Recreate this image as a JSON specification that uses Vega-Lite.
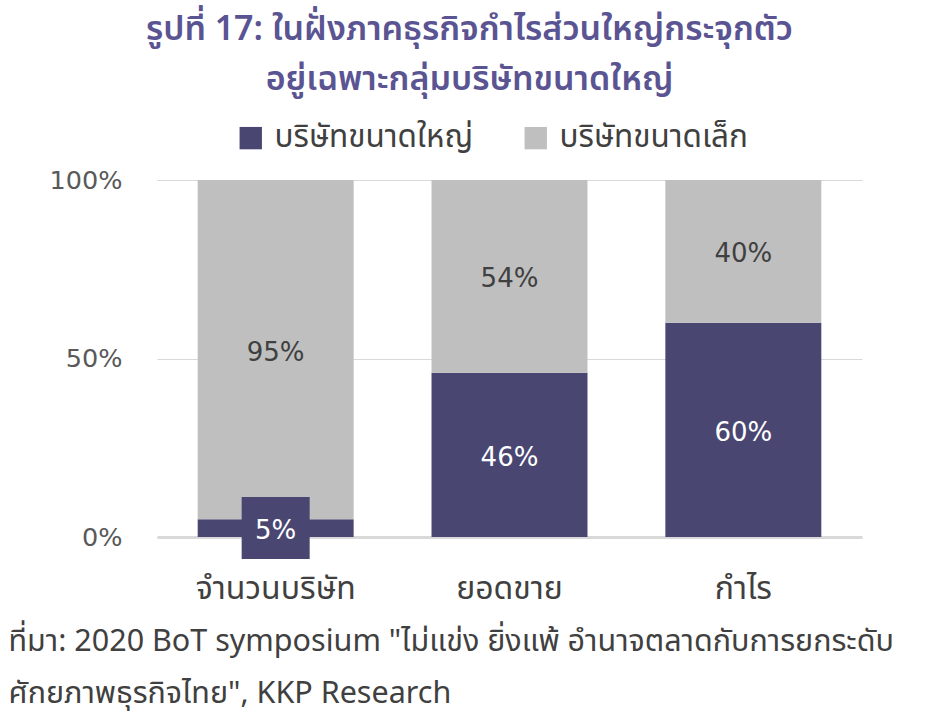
{
  "$schema": "https://vega.github.io/schema/vega-lite/v6.json",
  "width": 705,
  "height": 357,
  "autosize": {"type": "none"},
  "padding": {"left": 157, "top": 180, "right": 74, "bottom": 189},
  "background": "white",
  "title": {
    "text": ["รูปที่ 17: ในฝั่งภาคธุรกิจกำไรส่วนใหญ่กระจุกตัว", "อยู่เฉพาะกลุ่มบริษัทขนาดใหญ่"],
    "anchor": "middle",
    "frame": "group",
    "dx": -40,
    "offset": 25,
    "fontSize": 34,
    "fontWeight": 600,
    "color": "#5a5493",
    "lineHeight": 50,
    "font": "Noto Sans Thai, Noto Sans"
  },
  "config": {
    "view": {"stroke": null},
    "font": "Noto Sans Thai, Noto Sans"
  },
  "data": {
    "values": [
      {"category": "จำนวนบริษัท", "size": "บริษัทขนาดใหญ่", "ord": 1, "value": 0.05},
      {"category": "จำนวนบริษัท", "size": "บริษัทขนาดเล็ก", "ord": 2, "value": 0.95},
      {"category": "ยอดขาย", "size": "บริษัทขนาดใหญ่", "ord": 1, "value": 0.46},
      {"category": "ยอดขาย", "size": "บริษัทขนาดเล็ก", "ord": 2, "value": 0.54},
      {"category": "กำไร", "size": "บริษัทขนาดใหญ่", "ord": 1, "value": 0.60},
      {"category": "กำไร", "size": "บริษัทขนาดเล็ก", "ord": 2, "value": 0.40}
    ]
  },
  "encoding": {
    "x": {
      "field": "category",
      "type": "nominal",
      "sort": ["จำนวนบริษัท", "ยอดขาย", "กำไร"],
      "scale": {"paddingInner": 0.333, "paddingOuter": 0.174},
      "axis": {
        "labelAngle": 0,
        "labelFontSize": 32,
        "labelColor": "#404040",
        "labelPadding": 51,
        "labelBaseline": "middle",
        "ticks": false,
        "domain": true,
        "domainColor": "#d9d9d9",
        "domainWidth": 3,
        "grid": false,
        "title": ["ที่มา: 2020 BoT symposium \"ไม่แข่ง ยิ่งแพ้ อำนาจตลาดกับการยกระดับ", "ศักยภาพธุรกิจไทย\", KKP Research"],
        "titleFontSize": 30.5,
        "titleFontWeight": "normal",
        "titleColor": "#404040",
        "titleAnchor": "start",
        "titleAlign": "left",
        "titleBaseline": "middle",
        "titleX": -149,
        "titleY": 104,
        "titleLineHeight": 52,
        "titleLimit": 0
      }
    }
  },
  "layer": [
    {
      "mark": {"type": "bar"},
      "encoding": {
        "y": {
          "field": "value",
          "type": "quantitative",
          "stack": "zero",
          "scale": {"domain": [0, 1]},
          "axis": {
            "values": [0, 0.5, 1],
            "format": ".0%",
            "labelFont": "DejaVu Sans",
            "labelFontSize": 25.5,
            "labelColor": "#595959",
            "labelPadding": 35,
            "ticks": false,
            "domain": false,
            "gridColor": "#d9d9d9",
            "gridWidth": 1,
            "title": null
          }
        },
        "color": {
          "field": "size",
          "type": "nominal",
          "scale": {"domain": ["บริษัทขนาดใหญ่", "บริษัทขนาดเล็ก"], "range": ["#4a4672", "#bfbfbf"]},
          "legend": {
            "orient": "none",
            "direction": "horizontal",
            "legendX": 78,
            "legendY": -58,
            "title": null,
            "symbolType": "square",
            "symbolSize": 500,
            "symbolStrokeWidth": 0,
            "symbolOpacity": 1,
            "labelFontSize": 31.5,
            "labelColor": "#404040",
            "labelLimit": 0,
            "columnPadding": 46,
            "labelOffset": 8
          }
        },
        "order": {"field": "ord"}
      }
    },
    {
      "transform": [{"filter": "datum.value < 0.1"}],
      "mark": {
        "type": "point",
        "shape": "M-1.097,-1H1.097V1H-1.097Z",
        "filled": true,
        "opacity": 1,
        "color": "#4a4672",
        "size": 3844
      },
      "encoding": {
        "y": {"field": "value", "type": "quantitative", "stack": "zero", "bandPosition": 0.5},
        "order": {"field": "ord"}
      }
    },
    {
      "mark": {"type": "text", "fontSize": 26, "baseline": "middle", "dy": 3, "font": "DejaVu Sans"},
      "encoding": {
        "y": {"field": "value", "type": "quantitative", "stack": "zero", "bandPosition": 0.5},
        "text": {"field": "value", "type": "quantitative", "format": ".0%"},
        "color": {
          "condition": {"test": "datum.ord == 1", "value": "#ffffff"},
          "value": "#404040"
        },
        "order": {"field": "ord"}
      }
    }
  ]
}
